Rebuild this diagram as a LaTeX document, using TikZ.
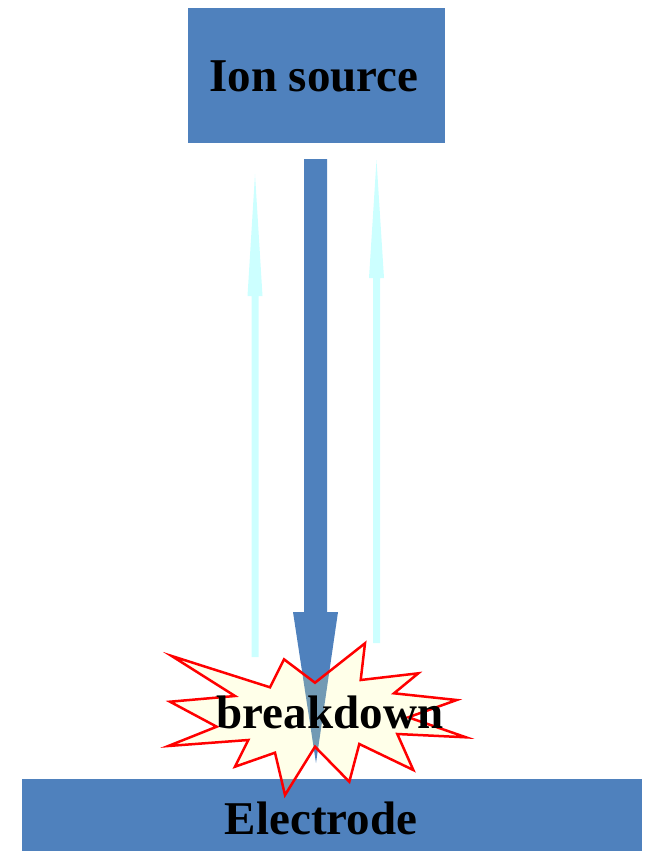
\documentclass[tikz,border=0pt]{standalone}
\usepackage{fontspec}
\setmainfont{Liberation Serif}
\begin{document}
\begin{tikzpicture}[x=1pt,y=-1pt,
  blockbox/.style={fill=boxblue, draw=none, inner sep=0pt},
  bigtext/.style={font=\bfseries\fontsize{47}{50}\selectfont, text=black, inner sep=0pt},
  beamfill/.style={fill=boxblue, draw=none},
  backfill/.style={fill=paleCyan, draw=none},
  burst/.style={draw=red, line width=2.5pt, line join=miter, fill=burstfill, fill opacity=0.2}
]
\definecolor{boxblue}{HTML}{4F81BD}
\definecolor{paleCyan}{HTML}{CCFFFF}
\definecolor{burstfill}{RGB}{255,255,144}

% canvas
\useasboundingbox (0,0) rectangle (646,851);

% ion source and electrode blocks
\node[blockbox, minimum width=257pt, minimum height=135pt] (ionsrc) at (316.5,75.5) {};
\node[bigtext] (ionlabel) at (314,76) {Ion source};
\node[blockbox, minimum width=620pt, minimum height=72pt] (electrode) at (332,815) {};
\node[bigtext, anchor=base] (electrodelabel) at (321,834) {Electrode};

% ion beam from the source down to the electrode
\coordinate (beam-tail) at (315.5,159);
\coordinate (beam-base) at (315.5,612);
\coordinate (beam-tip)  at (316,763);
\fill[beamfill]
  ([xshift=-11.5pt]beam-tail) -- ([xshift=-11.5pt]beam-base) -- ([xshift=-22.5pt]beam-base)
  -- (beam-tip)
  -- ([xshift=22.5pt]beam-base) -- ([xshift=11.5pt]beam-base) -- ([xshift=11.5pt]beam-tail) -- cycle;

% returning particles (left)
\coordinate (left-tail) at (255,657);
\coordinate (left-base) at (255,296);
\coordinate (left-tip)  at (255,174);
\fill[backfill]
  ([xshift=-3.5pt]left-tail) -- ([xshift=-3.5pt]left-base) -- ([xshift=-7.5pt]left-base)
  -- (left-tip)
  -- ([xshift=7.5pt]left-base) -- ([xshift=3.5pt]left-base) -- ([xshift=3.5pt]left-tail) -- cycle;

% returning particles (right)
\coordinate (right-tail) at (376.5,643);
\coordinate (right-base) at (376.5,278);
\coordinate (right-tip)  at (376.5,160);
\fill[backfill]
  ([xshift=-3.5pt]right-tail) -- ([xshift=-3.5pt]right-base) -- ([xshift=-7.5pt]right-base)
  -- (right-tip)
  -- ([xshift=7.5pt]right-base) -- ([xshift=3.5pt]right-base) -- ([xshift=3.5pt]right-tail) -- cycle;

% breakdown flash
\draw[burst]
  (171.7,656) -- (270,687.3) -- (284,659.3) -- (315,682.7) -- (365,643.3)
  -- (360.7,680) -- (418.3,673.3) -- (394,693.3) -- (456.7,700) -- (408.3,717.3)
  -- (466,737.3) -- (397.3,734) -- (413.3,770) -- (359.3,744) -- (349.3,781.7)
  -- (315,746.7) -- (285,795) -- (275,752.7) -- (235,766.7) -- (248.3,740)
  -- (168.3,746) -- (216.7,726.7) -- (170,701.7) -- (235,696) -- cycle;
\node[bigtext, anchor=base] (breakdown) at (330,728) {breakdown};
\end{tikzpicture}
\end{document}
